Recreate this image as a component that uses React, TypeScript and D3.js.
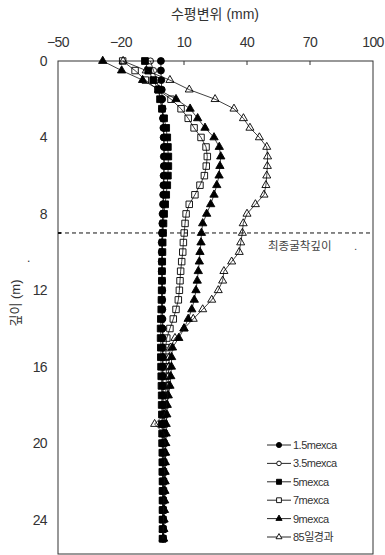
import * as d3 from 'd3';

// depth (m), one reading every 0.5 m
const depths = [0, 0.5, 1, 1.5, 2, 2.5, 3, 3.5, 4, 4.5, 5, 5.5, 6, 6.5, 7, 7.5, 8, 8.5, 9, 9.5,
  10, 10.5, 11, 11.5, 12, 12.5, 13, 13.5, 14, 14.5, 15, 15.5, 16, 16.5, 17, 17.5, 18, 18.5, 19, 19.5,
  20, 20.5, 21, 21.5, 22, 22.5, 23, 23.5, 24, 24.5, 25];

// horizontal displacement (mm)
const exca15 = [-1, -1, -0.8, -0.6, -0.4, -0.2, 0, 0.2, 0.3, 0.4,
  0.4, 0.4, 0.3, 0.2, 0.1, 0, -0.2, -0.3, -0.5, -0.6,
  -0.6, -0.6, -0.6, -0.5, -0.5, -0.5, -0.4, -0.4, -0.3, -0.3,
  -0.3, -0.2, -0.2, -0.2, -0.1, -0.1, 0, 0, 0, 0,
  0, 0, 0, 0, 0, 0, 0, 0, 0, 0, 0];
const exca35 = [-6, -4.5, -3, -2, -1.2, -0.5, 0, 0.3, 0.5, 0.6,
  0.6, 0.6, 0.5, 0.4, 0.3, 0.2, 0, -0.1, -0.2, -0.3,
  -0.3, -0.3, -0.3, -0.3, -0.2, -0.2, -0.2, -0.1, -0.1, 0,
  0, 0, 0, 0, 0, 0, 0, 0, 0, 0,
  0, 0, 0, 0, 0, 0, 0, 0, 0, 0, 0];
const exca5 = [-8.6, -7, -4.6, -2.2, -1.4, -0.5, 0.5, 1.5, 2, 2.3,
  2.5, 2.5, 2.3, 2, 1.5, 1, 0.5, 0.2, 0, -0.2,
  -0.3, -0.4, -0.5, -0.5, -0.6, -0.7, -0.8, -1, -1.1, -1.1,
  -1, -1, -0.9, -0.8, -0.7, -0.6, -0.6, -0.5, -0.5, -0.4,
  -0.4, -0.3, -0.3, -0.3, -0.2, -0.2, -0.2, -0.2, -0.2, -0.2, -0.2];
const exca7 = [-19.2, -13.3, -8.4, -2.4, 3.8, 8.6, 12, 14.8, 18.1, 20.5,
  21.1, 20.6, 19.7, 17.6, 15.2, 12.5, 11, 10.5, 10.1, 9.7,
  9.4, 8.9, 8.4, 8.1, 7.8, 7.3, 6.2, 4.9, 3.3, 1.8,
  1.3, 1.5, 1.6, 1.6, 1.5, 1.2, 1, 0.8, 0.6, 0.5,
  0.4, 0.3, 0.3, 0.2, 0.2, 0.2, 0.1, 0.1, 0, 0, 0];
const exca9 = [-28.7, -19.7, -9.7, -2, 6.2, 12.9, 16.5, 20, 24.3, 26.8,
  27.5, 27.1, 26.7, 25.6, 24.3, 22.7, 20.8, 18.9, 18.3, 18.1,
  17.6, 17.3, 16.8, 16.3, 15.7, 14.9, 13.7, 12, 10, 7.5,
  4.5, 4.1, 4, 3.7, 3.3, 2.5, 2, 1.8, 1.5, 1.5,
  1.3, 1.2, 1.1, 1, 1, 0.9, 0.8, 0.7, 0.5, 0.4, 0.3];
const day85 = [-19, -8, 3.3, 12.5, 24.8, 33.8, 38.3, 41.4, 45.9, 49.4,
  49.8, 49.7, 49.4, 49, 48.1, 44, 40, 38.2, 37.8, 37,
  36.3, 32.7, 29, 28.4, 26.3, 23.2, 18.9, 14.4, 10, 5.7,
  3.5, 3, 2.8, 2.6, 2.4, 2.2, 1.8, 0.5, -4, 0.5,
  1, 1, 0.8, 0.8, 0.6, 0.5, 0.4, 0.3, 0.2, 0.1, 0];

const seriesNames = ['1.5mexca', '3.5mexca', '5mexca', '7mexca', '9mexca', '85일경과'];
const seriesValues = [exca15, exca35, exca5, exca7, exca9, day85];
const xTicks = [-50, -20, 10, 40, 70, 100];
const yTicks = [0, 4, 8, 12, 16, 20, 24];
const finalDepth = 9;

const markers = [
  { type: d3.symbolCircle, size: 38, fill: true },
  { type: d3.symbolCircle, size: 30, fill: false },
  { type: d3.symbolSquare, size: 46, fill: true },
  { type: d3.symbolSquare, size: 42, fill: false },
  { type: d3.symbolTriangle, size: 30, fill: true },
  { type: d3.symbolTriangle, size: 28, fill: false },
];

const font = '"Liberation Sans", Arial, "Noto Sans CJK KR", sans-serif';

export default function App() {
  const width = 385;
  const height = 555;
  const x = d3.scaleLinear().domain([-50, 100]).range([58, 373]);
  const y = d3.scaleLinear().domain([0, 25.8]).range([61, 554]);

  const line = d3.line<[number, number]>()
    .x(d => x(d[0]))
    .y(d => y(d[1]));

  const legendX = 267;
  const legendY = d3.scaleLinear().domain([0, 5]).range([445, 537]);

  return (
    <div style={{ position: 'absolute', left: 0, top: 0 }}>
      <svg width={width} height={height} style={{ display: 'block', fontFamily: font }}>
        <rect width={width} height={height} fill="#fff" />

        {/* frame */}
        <rect x={x(-50)} y={y(0)} width={x(100) - x(-50)} height={y(25.8) - y(0)}
          fill="none" stroke="#333" strokeWidth={1} />

        {/* top axis */}
        <text x={215} y={19} textAnchor="middle" fontSize={14} fill="#333">수평변위 (mm)</text>
        {xTicks.map(t => (
          <g key={t}>
            {t > -50 && t < 100 && (
              <line x1={x(t)} x2={x(t)} y1={y(0)} y2={y(0) + 4} stroke="#333" />
            )}
            <text x={x(t)} y={47} textAnchor="middle" fontSize={14} fill="#333" letterSpacing={-0.6}>
              {t < 0 ? `\u2212${-t}` : t}
            </text>
          </g>
        ))}

        {/* left axis */}
        {yTicks.map(t => (
          <text key={t} x={47} y={y(t) + 5} textAnchor="end" fontSize={14} fill="#333" letterSpacing={-0.6}>
            {t}
          </text>
        ))}
        <text transform="translate(20,303) rotate(-90)" textAnchor="middle" fontSize={13} fill="#333">깊이 (m)</text>
        <text x={27} y={262} fontSize={12} fill="#333">.</text>

        {/* final excavation depth */}
        <line x1={x(-50)} x2={x(100)} y1={y(finalDepth)} y2={y(finalDepth)}
          stroke="#111" strokeWidth={1} strokeDasharray="4,3" />
        <line x1={x(-50)} x2={x(-50) + 3} y1={y(finalDepth)} y2={y(finalDepth)} stroke="#111" strokeWidth={2} />
        <text x={268} y={250} fontSize={11.5} fill="#444">최종굴착깊이</text>
        <text x={354} y={250} fontSize={11.5} fill="#444">.</text>

        {/* series */}
        {seriesValues.map((vals, si) => {
          const pts = vals.map((v, i) => [v, depths[i]] as [number, number]);
          const m = markers[si];
          const sym = d3.symbol().type(m.type).size(m.size)();
          return (
            <g key={si}>
              <path d={line(pts) || ''} fill="none" stroke="#111" strokeWidth={0.8} />
              {pts.map((p, i) => (
                <path key={i} d={sym || ''} transform={`translate(${x(p[0])},${y(p[1])})`}
                  fill={m.fill ? '#000' : 'none'} stroke="#000" strokeWidth={0.9} />
              ))}
            </g>
          );
        })}

        {/* legend */}
        {seriesNames.map((name, i) => {
          const m = markers[i];
          const sym = d3.symbol().type(m.type).size(m.size * 0.55)();
          const ly = legendY(i);
          return (
            <g key={name}>
              <line x1={legendX} x2={legendX + 24} y1={ly} y2={ly} stroke="#111" strokeWidth={0.9} />
              <path d={sym || ''} transform={`translate(${legendX + 12},${ly})`}
                fill={m.fill ? '#000' : '#fff'} stroke="#000" strokeWidth={0.9} />
              <text x={legendX + 26} y={ly + 4} fontSize={11} fill="#333" letterSpacing={-0.5}>{name}</text>
            </g>
          );
        })}
      </svg>
    </div>
  );
}
